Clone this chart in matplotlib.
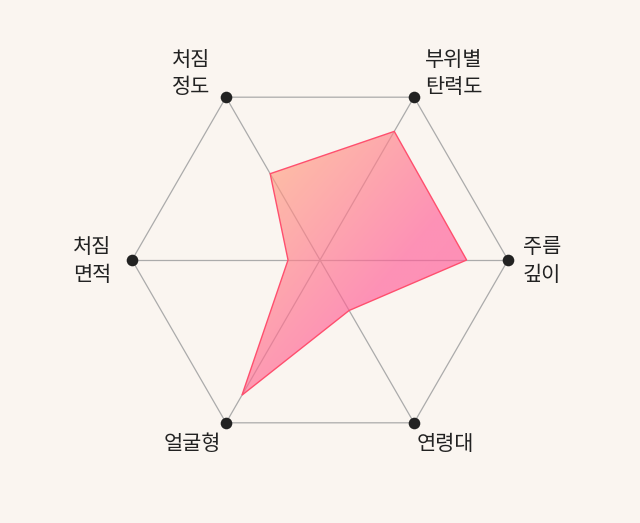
import numpy as np
import matplotlib
matplotlib.use("Agg")
import matplotlib.pyplot as plt
from matplotlib.patches import Polygon
from matplotlib.colors import LinearSegmentedColormap

plt.rcParams['font.family'] = ['Noto Sans CJK KR', 'DejaVu Sans']

# ---- data ----
categories = ["부위별\n탄력도", "주름\n깊이", "연령대", "얼굴형", "처짐\n면적", "처짐\n정도"]
values = [79, 78, 31, 83, 17, 53]
max_value = 100

BG = "#FAF5F0"
W, H, DPI = 640, 523, 100
fig = plt.figure(figsize=(W / DPI, H / DPI), dpi=DPI, facecolor=BG)
ax = fig.add_axes([0, 0, 1, 1])
ax.set_facecolor(BG)
R_PX = 188.0
cx_px, cy_px = 320.0, 260.0
ax.set_xlim(-cx_px / R_PX, (W - cx_px) / R_PX)
ax.set_ylim(-(H - cy_px) / R_PX, cy_px / R_PX)
ax.axis("off")

n = len(categories)
angles = np.deg2rad(60 - 60 * np.arange(n))
ox, oy = np.cos(angles), np.sin(angles)

# grid: outer hexagon + spokes
hx = np.append(ox, ox[0])
hy = np.append(oy, oy[0])
ax.plot(hx, hy, color="#ABABAB", lw=0.9, zorder=1)
for i in range(n // 2):
    ax.plot([ox[i], ox[i + 3]], [oy[i], oy[i + 3]], color="#ABABAB", lw=0.9, zorder=1)

# data polygon
r = np.array(values) / max_value
px, py = r * ox, r * oy
poly = Polygon(np.column_stack([px, py]), closed=True, facecolor="none",
               edgecolor="#FF4F6E", lw=1.0, zorder=4)
ax.add_patch(poly)

# gradient fill (bounding-box diagonal, top-left -> bottom-right) clipped to polygon
cmap = LinearSegmentedColormap.from_list(
    "g", [(0.0, "#FFA47E"), (0.1, "#FFA47E"), (0.6, "#FF5E98"), (1.0, "#FF5898")])
xmin, xmax = px.min(), px.max()
ymin, ymax = py.min(), py.max()
gx = np.linspace(xmin, xmax, 300)
gy = np.linspace(ymin, ymax, 300)
GX, GY = np.meshgrid(gx, gy)
u = (GX - xmin) / (xmax - xmin)
v = (ymax - GY) / (ymax - ymin)
t = (u + v) / 2
img = ax.imshow(t, extent=[xmin, xmax, ymin, ymax], origin="lower", cmap=cmap,
                vmin=0, vmax=1, alpha=0.66, zorder=3, interpolation="bilinear",
                aspect="auto")
clip = Polygon(np.column_stack([px, py]), closed=True, transform=ax.transData)
img.set_clip_path(clip)

# vertex dots
ax.scatter(ox, oy, s=70, color="#222222", zorder=5, linewidths=0)

# labels
offsets = [(11, -1), (15, -1), (3, -10), (-5, -10), (-21, -1), (-16, -1)]
has = ["left", "left", "left", "right", "right", "right"]
vas = ["bottom", "center", "top", "top", "center", "bottom"]
for i, lab in enumerate(categories):
    ax.annotate(lab, (ox[i], oy[i]), xytext=offsets[i], textcoords="offset pixels",
                ha=has[i], va=vas[i], fontsize=15, color="#222222",
                linespacing=1.3, multialignment="left")

fig.savefig("out.png", dpi=DPI, facecolor=BG)
